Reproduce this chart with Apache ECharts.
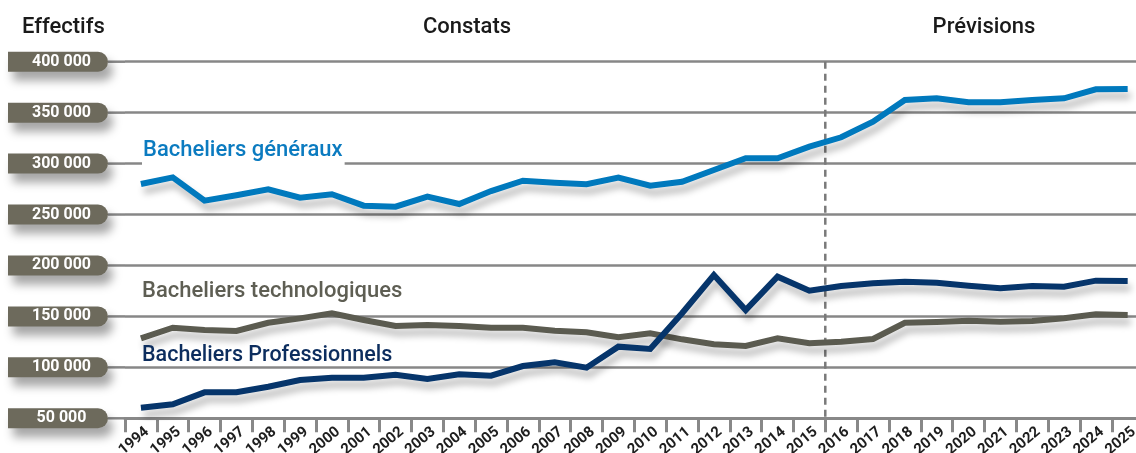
<!DOCTYPE html>
<html><head><meta charset="utf-8">
<script src="https://cdn.jsdelivr.net/npm/echarts@6/dist/echarts.min.js"></script>
<style>html,body{margin:0;padding:0;background:#fff}#c{width:1136px;height:453px}</style>
</head><body><div id="c"></div>
<script>
const years = ['1994','1995','1996','1997','1998','1999','2000','2001','2002','2003','2004','2005','2006','2007','2008','2009','2010','2011','2012','2013','2014','2015','2016','2017','2018','2019','2020','2021','2022','2023','2024','2025'];
const generaux = [280000,286500,263600,268900,274800,266500,269900,258700,257700,267500,260300,273000,283200,281200,279700,286200,278300,282200,293700,305200,305200,316600,325800,341100,362400,364100,360200,360200,362400,364100,372900,373200];
const technologiques = [128500,138900,136700,135700,143800,148100,153100,146500,140600,141600,140600,138900,138900,136000,134400,129500,133400,127500,122600,121000,128500,123600,125200,127800,143800,144500,145800,144800,145500,148100,152100,151400];
const professionnels = [60400,63700,75500,75500,81000,87600,89800,89800,92800,88600,93200,91800,101300,105000,99700,120300,118000,153100,190600,156300,189000,175200,179900,182500,184100,183100,180100,177600,179900,179200,185100,184800];
const yTickValues = [50000,100000,150000,200000,250000,300000,350000,400000];
const yTickLabels = ['50 000','100 000','150 000','200 000','250 000','300 000','350 000','400 000'];
const seriesNames = ['Bacheliers généraux','Bacheliers technologiques','Bacheliers Professionnels'];
const titles = ['Effectifs','Constats','Prévisions'];
const lastObservedYear = '2015';
const firstForecastYear = '2016';

const TFONT = 'Roboto, "Liberation Sans", sans-serif';
const colors = ['#0079bd','#5b5b50','#06356b'];
const textColors = ['#0b7bc0','#5e5e53','#0c2d5e'];
const chart = echarts.init(document.getElementById('c'), null, {renderer:'canvas'});
const shadow = {shadowColor:'rgba(0,0,0,0.28)', shadowBlur:7, shadowOffsetY:7, shadowOffsetX:3};
function mk(name, data, i){
  return {name, type:'line', data, symbol:'none', z:3,
    lineStyle:Object.assign({color:colors[i], width:6, join:'miter'}, shadow)};
}
chart.setOption({
  animation:false,
  grid:{left:125, top:61.7, height:356.6, width:1018.6, outerBoundsMode:'none', containLabel:false},
  xAxis:{type:'category', data:years, boundaryGap:true,
    axisLine:{lineStyle:{color:'#888', width:3}},
    axisTick:{show:true, length:14, lineStyle:{color:'#888', width:3}},
    axisLabel:{interval:0, rotate:40, margin:17, align:'center', verticalAlign:'middle', padding:[0,18,0,0],
      fontFamily:TFONT, fontWeight:'bold', fontSize:15, color:'#1e1e1e'}},
  yAxis:{type:'value', min:50000, max:400000, interval:50000,
    axisLine:{show:false}, axisTick:{show:false},
    splitLine:{lineStyle:{color:'#878787', width:2.5}},
    axisLabel:{margin:0, formatter:function(v){const k=yTickValues.indexOf(v); return '{pill|'+(k>=0?yTickLabels[k]:v)+'}{ln| }';},
      rich:{
        pill:{width:93, height:20, lineHeight:20, align:'center', verticalAlign:'middle', padding:[0,0,0,7],
          backgroundColor:'#6d6a5c', borderRadius:[0,10,10,0], color:'#fff', fontWeight:'bold', fontSize:16, fontFamily:TFONT,
          shadowColor:'rgba(0,0,0,0.35)', shadowBlur:10, shadowOffsetY:9, shadowOffsetX:5},
        ln:{width:17, height:2.5, lineHeight:2.5, verticalAlign:'middle', backgroundColor:'#878787', fontSize:2}
      }}},
  series:[mk(seriesNames[0], generaux, 0), mk(seriesNames[1], technologiques, 1), mk(seriesNames[2], professionnels, 2)],
  graphic:[
    {id:'t0', type:'text', x:22, y:27, z:10, style:{text:titles[0], font:'500 22px '+TFONT, fill:'#1a1a1a', verticalAlign:'middle'}},
    {id:'t1', type:'text', x:467, y:27, z:10, style:{text:titles[1], font:'500 22px '+TFONT, fill:'#1a1a1a', align:'center', verticalAlign:'middle'}},
    {id:'t2', type:'text', x:984, y:27, z:10, style:{text:titles[2], font:'500 22px '+TFONT, fill:'#1a1a1a', align:'center', verticalAlign:'middle'}},
    {id:'l0', type:'text', x:142, y:150.5, z:10, style:{text:seriesNames[0], font:'500 22px '+TFONT, fill:textColors[0], verticalAlign:'middle', backgroundColor:'#fff', padding:[2,2,6,1]}},
    {id:'l1', type:'text', x:142, y:291.3, z:10, style:{text:seriesNames[1], font:'500 22px '+TFONT, fill:textColors[1], verticalAlign:'middle'}},
    {id:'l2', type:'text', x:142, y:356, z:10, style:{text:seriesNames[2], font:'500 21.5px '+TFONT, fill:textColors[2], verticalAlign:'middle'}}
  ]
});
const xa = chart.convertToPixel({xAxisIndex:0}, lastObservedYear);
const xb = chart.convertToPixel({xAxisIndex:0}, firstForecastYear);
const xd = (xa + xb) / 2;
const yTop = chart.convertToPixel({yAxisIndex:0}, 400000);
const yBot = chart.convertToPixel({yAxisIndex:0}, 50000);
chart.setOption({graphic:[{id:'dash', type:'line', z:1, shape:{x1:xd, y1:yTop, x2:xd, y2:yBot},
  style:{stroke:'#7a7a7a', lineWidth:2.5, lineDash:[7,5]}}]});
</script></body></html>
